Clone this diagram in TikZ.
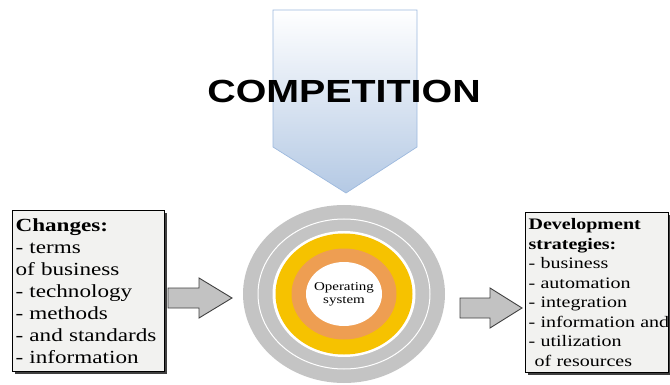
\documentclass[tikz,border=0pt]{standalone}
\usepackage{fontspec}
\setmainfont[FakeStretch=1.25]{Liberation Serif}
\newfontfamily\headfont[FakeStretch=1.23]{Liberation Sans}
\usetikzlibrary{shadows}
\definecolor{PanelBlue}{HTML}{B4C9E4}
\definecolor{PanelEdge}{HTML}{9DB9DE}
\definecolor{RingGray}{HTML}{C4C4C4}
\definecolor{RingYellow}{HTML}{F6C200}
\definecolor{RingOrange}{HTML}{EE9E52}
\definecolor{PaperGray}{HTML}{F2F2F0}
\definecolor{ShaftGray}{HTML}{C2C2C2}
\tikzset{
  infobox/.style={draw=black, line width=1.2pt, fill=PaperGray, align=left, inner sep=3pt, anchor=north west, drop shadow={shadow xshift=2.5pt, shadow yshift=-2.5pt, fill=black!75, opacity=1}},
  blockarrow/.style={draw=black!75, line width=0.9pt, fill=ShaftGray, line join=miter},
  headline/.style={font=\headfont\bfseries\fontsize{32}{36}\selectfont},
  coretext/.style={align=center, font=\fontsize{12}{13}\selectfont, inner sep=0pt}
}

\begin{document}
\begin{tikzpicture}[x=1pt, y=-1pt]
\useasboundingbox (0,0) rectangle (670,385);

% pressure pointer from above
\coordinate (tip) at (346,193);
\shade[top color=white, bottom color=PanelBlue, draw=PanelEdge, line width=0.7pt]
  (273,10) -- (417,10) -- (417,147) -- (tip) -- (273,147) -- cycle;
\node[headline] (competition) at (344,91) {COMPETITION};

% rings round the core
\coordinate (core) at (344,294);
\fill[RingGray] (core) ellipse [x radius=101, y radius=89];
\draw[white, line width=1pt] (core) ellipse [x radius=86, y radius=75];
\fill[white] (core) ellipse [x radius=71.5, y radius=63];
\fill[RingYellow] (core) ellipse [x radius=68.5, y radius=60.5];
\fill[RingOrange] (core) ellipse [x radius=52.5, y radius=45.5];
\fill[white] (core) ellipse [x radius=38, y radius=32];
\node[coretext] (os) at (core) {Operating\\system};

% side panels
\node[infobox, text width=146pt, minimum height=161pt, font=\fontsize{18.5}{22}\selectfont] (changes) at (12,210)
  {\textbf{Changes:}\\- terms\\of business\\- technology\\- methods\\- and standards\\- information};
\node[infobox, text width=137pt, minimum height=160pt, font=\fontsize{16}{19.5}\selectfont] (strategies) at (525,212)
  {\textbf{Development}\\\textbf{strategies:}\\- business\\- automation\\- integration\\\mbox{- information and}\\- utilization\\\hspace*{6pt}of resources};

% block arrows
\draw[blockarrow] (168,288) -- (199,288) -- (199,278) -- (232,298) -- (199,318) -- (199,308) -- (168,308) -- cycle;
\draw[blockarrow] (460,298) -- (490,298) -- (490,288) -- (522,308) -- (490,328) -- (490,318) -- (460,318) -- cycle;
\end{tikzpicture}
\end{document}
